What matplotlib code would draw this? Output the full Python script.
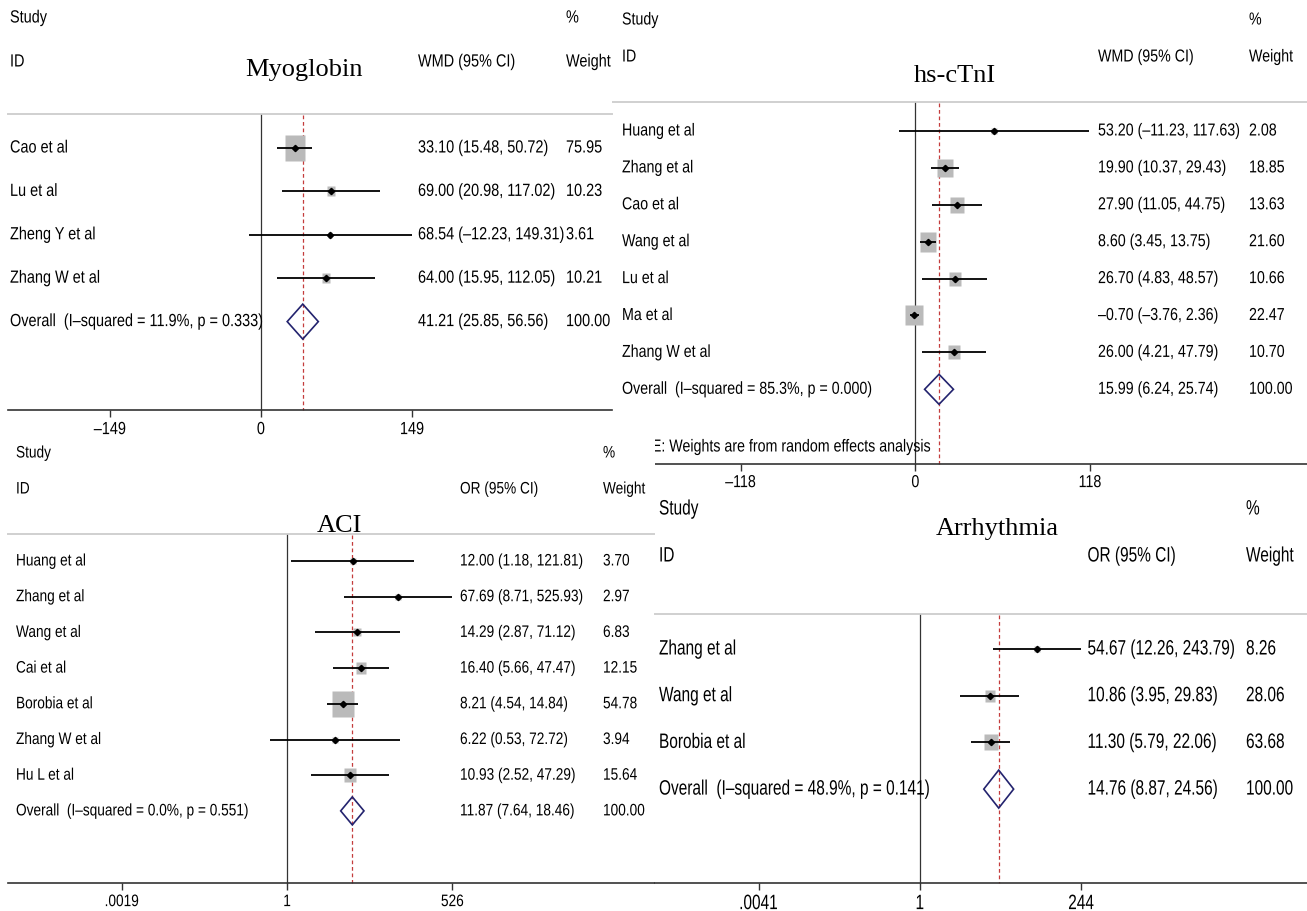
import numpy as np
import matplotlib
matplotlib.use("Agg")
import matplotlib.pyplot as plt
from matplotlib.patches import Polygon
from matplotlib.patheffects import AbstractPathEffect
from matplotlib.ticker import FixedLocator, NullLocator
from matplotlib.transforms import Affine2D, blended_transform_factory

W, H = 1307, 911
SANS = ["Liberation Sans", "DejaVu Sans"]
SERIF = ["Liberation Serif", "DejaVu Serif"]
DASH = "\u2013"

# ---------------- Myoglobin (WMD) ----------------
myo_studies = ["Cao et al", "Lu et al", "Zheng Y et al", "Zhang W et al"]
myo_est = [33.10, 69.00, 68.54, 64.00]
myo_lo = [15.48, 20.98, -12.23, 15.95]
myo_hi = [50.72, 117.02, 149.31, 112.05]
myo_wt = [75.95, 10.23, 3.61, 10.21]
myo_overall = [41.21, 25.85, 56.56]
myo_i2, myo_p = 11.9, 0.333
myo_ticks = [-149, 0, 149]

# ---------------- hs-cTnI (WMD) ----------------
tni_studies = ["Huang et al", "Zhang et al", "Cao et al", "Wang et al",
               "Lu et al", "Ma et al", "Zhang W et al"]
tni_est = [53.20, 19.90, 27.90, 8.60, 26.70, -0.70, 26.00]
tni_lo = [-11.23, 10.37, 11.05, 3.45, 4.83, -3.76, 4.21]
tni_hi = [117.63, 29.43, 44.75, 13.75, 48.57, 2.36, 47.79]
tni_wt = [2.08, 18.85, 13.63, 21.60, 10.66, 22.47, 10.70]
tni_overall = [15.99, 6.24, 25.74]
tni_i2, tni_p = 85.3, 0.000
tni_ticks = [-118, 0, 118]

# ---------------- ACI (OR) ----------------
aci_studies = ["Huang et al", "Zhang et al", "Wang et al", "Cai et al",
               "Borobia et al", "Zhang W et al", "Hu L et al"]
aci_est = [12.00, 67.69, 14.29, 16.40, 8.21, 6.22, 10.93]
aci_lo = [1.18, 8.71, 2.87, 5.66, 4.54, 0.53, 2.52]
aci_hi = [121.81, 525.93, 71.12, 47.47, 14.84, 72.72, 47.29]
aci_wt = [3.70, 2.97, 6.83, 12.15, 54.78, 3.94, 15.64]
aci_overall = [11.87, 7.64, 18.46]
aci_i2, aci_p = 0.0, 0.551
aci_ticks = [0.0019, 1, 526]
aci_ticklabels = [".0019", "1", "526"]

# ---------------- Arrhythmia (OR) ----------------
arr_studies = ["Zhang et al", "Wang et al", "Borobia et al"]
arr_est = [54.67, 10.86, 11.30]
arr_lo = [12.26, 3.95, 5.79]
arr_hi = [243.79, 29.83, 22.06]
arr_wt = [8.26, 28.06, 63.68]
arr_overall = [14.76, 8.87, 24.56]
arr_i2, arr_p = 48.9, 0.141
arr_ticks = [0.0041, 1, 244]
arr_ticklabels = [".0041", "1", "244"]


class Squeeze(AbstractPathEffect):
    """Draw text horizontally condensed about its left, centre or right edge."""

    def __init__(self, sx, anchor="left"):
        super().__init__()
        self.sx = sx
        self.anchor = anchor

    def draw_path(self, renderer, gc, tpath, affine, rgbFace=None):
        ext = tpath.get_extents()
        if self.anchor == "center":
            x0 = (ext.x0 + ext.x1) / 2
        elif self.anchor == "right":
            x0 = ext.x1
        else:
            x0 = 0.0
        squeeze = Affine2D().translate(-x0, 0).scale(self.sx, 1).translate(x0, 0)
        renderer.draw_path(gc, tpath, squeeze + affine, rgbFace)


fig = plt.figure(figsize=(W / 100, H / 100), dpi=100)


def fmt(v):
    return f"{v:.2f}".replace("-", DASH)


def forest(box, z, log, tick_px, ticks, ticklabels, null, rows, title, effect,
           studies, est, lo, hi, wt, overall, i2, p, fs, sx, cols, box_k,
           box_ratio, diamond_px, note=None):
    l, t, r, b = box
    ax = fig.add_axes([l / W, 1 - b / H, (r - l) / W, (b - t) / H])
    ax.set_zorder(z)
    ax.set_facecolor("white")

    # horizontal scale: outer ticks sit at the given pixel columns
    f = np.log10 if log else (lambda v: v)
    u1, u2 = f(ticks[0]), f(ticks[-1])
    ppu = (tick_px[1] - tick_px[0]) / (u2 - u1)

    def xdata(px):
        u = u1 + (px - tick_px[0]) / ppu
        return 10 ** u if log else u

    if log:
        ax.set_xscale("log")
    ax.set_xlim(xdata(l), xdata(r))

    # vertical scale: one unit per study row
    row0, step = rows

    def yrow(px):
        return (px - row0) / step

    ax.set_ylim(yrow(b), yrow(t))

    bt = blended_transform_factory(ax.transAxes, ax.transData)

    def xf(px):
        return (px - l) / (r - l)

    c_study, c_eff, c_wt, sep_y, axis_y, hdr = cols
    pe_left = [Squeeze(sx, "left")]
    txt = dict(fontsize=fs, family=SANS, color="black", va="center",
               path_effects=pe_left)

    # column headers and title
    ax.text(xf(c_study), yrow(hdr[0]), "Study", transform=bt, **txt)
    ax.text(xf(c_wt), yrow(hdr[0]), "%", transform=bt, **txt)
    ax.text(xf(c_study), yrow(hdr[1]), "ID", transform=bt, **txt)
    ax.text(xf(c_eff), yrow(hdr[1]), effect, transform=bt, **txt)
    ax.text(xf(c_wt), yrow(hdr[1]), "Weight", transform=bt, **txt)
    ax.text(xf(title[1]), yrow(title[2]), title[0], transform=bt,
            fontsize=19, family=SERIF, ha="center", va="baseline")

    # separator under the header
    ax.plot([xf(hdr[2]), 1], [yrow(sep_y)] * 2, transform=bt,
            color="#d0d0d0", lw=1.4, clip_on=False, zorder=1)

    # null line and overall-estimate line
    ys = [yrow(sep_y + 1), yrow(axis_y)]
    ax.plot([null, null], ys, color="#333333", lw=0.9, zorder=2)
    ax.plot([overall[0]] * 2, ys, color="#c43c3c", lw=0.9,
            ls=(0, (3.0, 2.2)), zorder=2)

    # study rows
    rect = [(-box_ratio / 2, -0.5), (box_ratio / 2, -0.5),
            (box_ratio / 2, 0.5), (-box_ratio / 2, 0.5), (-box_ratio / 2, -0.5)]
    n = len(studies)
    for i in range(n):
        ax.plot(est[i], i, marker=rect, ms=box_k * np.sqrt(wt[i]) * 0.72,
                mfc="#bababa", mec="none", zorder=3)
        ax.plot([lo[i], hi[i]], [i, i], color="black", lw=1.3, zorder=4,
                solid_capstyle="butt")
        ax.plot(est[i], i, marker="D", ms=3.2, color="black", zorder=5)
        ax.text(xf(c_study), i, studies[i], transform=bt, **txt)
        ax.text(xf(c_eff), i,
                f"{fmt(est[i])} ({fmt(lo[i])}, {fmt(hi[i])})",
                transform=bt, **txt)
        ax.text(xf(c_wt), i, f"{wt[i]:.2f}", transform=bt, **txt)

    # overall diamond
    half = diamond_px / 2 / step
    e, dl, dh = overall
    ax.add_patch(Polygon([(dl, n), (e, n - half), (dh, n), (e, n + half)],
                         closed=True, fill=False, ec="#23236e", lw=1.2,
                         zorder=4))
    ax.text(xf(c_study), n,
            f"Overall  (I{DASH}squared = {i2:.1f}%, p = {p:.3f})",
            transform=bt, **txt)
    ax.text(xf(c_eff), n, f"{fmt(e)} ({fmt(dl)}, {fmt(dh)})",
            transform=bt, **txt)
    ax.text(xf(c_wt), n, "100.00", transform=bt, **txt)

    if note is not None:
        ax.text(xf(note[1]), yrow(note[2]), note[0], transform=bt,
                ha="right", va="center", fontsize=fs, family=SANS,
                path_effects=[Squeeze(sx, "right")], clip_on=True)

    # x axis
    for s in ("top", "left", "right"):
        ax.spines[s].set_visible(False)
    sp = ax.spines["bottom"]
    sp.set_position(("data", yrow(axis_y)))
    sp.set_bounds(xdata(hdr[2]), xdata(r))
    sp.set_color("#333333")
    sp.set_linewidth(1.2)
    ax.set_yticks([])
    ax.xaxis.set_major_locator(FixedLocator(ticks))
    ax.xaxis.set_minor_locator(NullLocator())
    ax.set_xticklabels(ticklabels, fontsize=fs, family=SANS,
                       path_effects=[Squeeze(sx, "center")])
    ax.tick_params(axis="x", direction="out", length=5, width=1.0,
                   color="#333333", pad=3)
    return ax


forest(box=(0, 0, 612, 440), z=5, log=False, tick_px=(110, 412),
       ticks=myo_ticks,
       ticklabels=[str(t).replace("-", DASH) for t in myo_ticks],
       null=0, rows=(148, 43.4), title=("Myoglobin", 304, 76),
       effect="WMD (95% CI)",
       studies=myo_studies, est=myo_est, lo=myo_lo, hi=myo_hi, wt=myo_wt,
       overall=myo_overall, i2=myo_i2, p=myo_p, fs=12.7, sx=0.82,
       cols=(10, 418, 566, 114, 410, (18, 62, 8)),
       box_k=3.0, box_ratio=0.77, diamond_px=35)

forest(box=(612, 0, 1307, 492), z=2, log=False, tick_px=(740.7, 1090),
       ticks=tni_ticks,
       ticklabels=[str(t).replace("-", DASH) for t in tni_ticks],
       null=0, rows=(131, 36.9), title=("hs-cTnI", 955, 82),
       effect="WMD (95% CI)",
       studies=tni_studies, est=tni_est, lo=tni_lo, hi=tni_hi, wt=tni_wt,
       overall=tni_overall, i2=tni_i2, p=tni_p, fs=12.5, sx=0.82,
       cols=(622, 1098, 1249, 102, 464, (20, 57, 612)),
       box_k=4.1, box_ratio=0.88, diamond_px=30,
       note=("NOTE: Weights are from random effects analysis", 932, 447))

forest(box=(0, 436, 655, 911), z=3, log=True, tick_px=(121.6, 452.4),
       ticks=aci_ticks, ticklabels=aci_ticklabels,
       null=1, rows=(561, 35.7), title=("ACI", 339, 532),
       effect="OR (95% CI)",
       studies=aci_studies, est=aci_est, lo=aci_lo, hi=aci_hi, wt=aci_wt,
       overall=aci_overall, i2=aci_i2, p=aci_p, fs=12.0, sx=0.82,
       cols=(16, 460, 603, 534, 883, (453, 489, 8)),
       box_k=3.38, box_ratio=0.88, diamond_px=28)

forest(box=(655, 492, 1307, 911), z=4, log=True, tick_px=(758.5, 1081),
       ticks=arr_ticks, ticklabels=arr_ticklabels,
       null=1, rows=(649, 46.7), title=("Arrhythmia", 997, 535),
       effect="OR (95% CI)",
       studies=arr_studies, est=arr_est, lo=arr_lo, hi=arr_hi, wt=arr_wt,
       overall=arr_overall, i2=arr_i2, p=arr_p, fs=15.0, sx=0.74,
       cols=(659, 1087.5, 1246, 614, 883, (509, 556, 655)),
       box_k=2.13, box_ratio=0.82, diamond_px=38)

fig.savefig("out.png", dpi=100, facecolor="white")
